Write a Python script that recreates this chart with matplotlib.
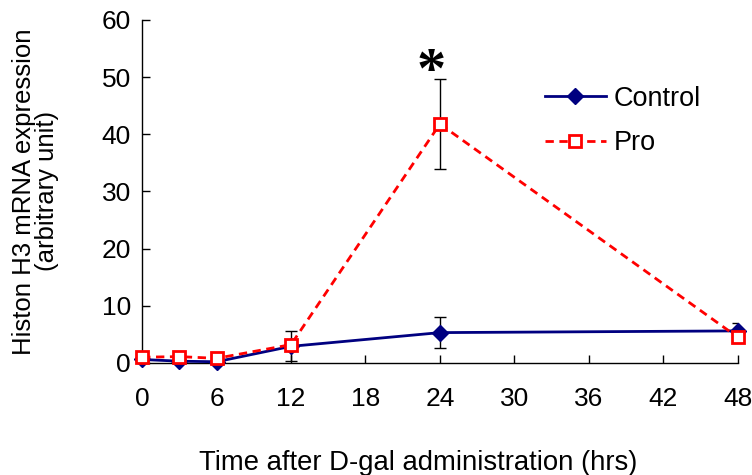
import matplotlib
matplotlib.use("Agg")
import matplotlib.pyplot as plt

plt.rcParams['font.family'] = ['Liberation Sans', 'DejaVu Sans']

# data
hours = [0, 3, 6, 12, 24, 48]
control = [0.6, 0.3, 0.2, 2.9, 5.3, 5.6]
control_err = [0, 0, 0, 2.6, 2.7, 1.3]
pro = [1.0, 1.1, 0.8, 3.2, 41.8, 4.5]
pro_err = [0, 0, 0, 0, 7.8, 0]
xticks = [0, 6, 12, 18, 24, 30, 36, 42, 48]
yticks = [0, 10, 20, 30, 40, 50, 60]

fig = plt.figure(figsize=(7.52, 4.75), dpi=100)
ax = fig.add_axes([0.189, 0.236, 0.792, 0.722])

ax.errorbar(hours, control, yerr=control_err, fmt='none', ecolor='black',
            elinewidth=1, capsize=4, capthick=1, zorder=2)
ax.errorbar(hours, pro, yerr=pro_err, fmt='none', ecolor='black',
            elinewidth=1, capsize=4, capthick=1, zorder=2)

ax.plot(hours, control, color='#000080', linewidth=2, marker='D',
        markersize=8.5, markerfacecolor='#000080', markeredgecolor='#000080',
        label='Control', clip_on=False, zorder=3)
ax.plot(hours, pro, color='#FF0000', linewidth=2, linestyle=(0, (3, 2)),
        marker='s', markersize=9, markerfacecolor='white',
        markeredgecolor='#FF0000', markeredgewidth=2,
        label='Pro', clip_on=False, zorder=4)

# significance mark
ax.text(23.3, 50.7, '*', ha='center', va='center', fontsize=42,
        fontweight='bold', family='Liberation Serif')

ax.set_xlim(0, 48)
ax.set_ylim(0, 60)
ax.set_xticks(xticks)
ax.set_yticks(yticks)
ax.tick_params(direction='in', length=6, width=1, labelsize=19)
ax.tick_params(axis='x', pad=17)
ax.tick_params(axis='y', pad=8)
for side in ['top', 'right']:
    ax.spines[side].set_visible(False)
for side in ['left', 'bottom']:
    ax.spines[side].set_linewidth(1)

ax.set_xlabel('Time after D-gal administration (hrs)', fontsize=19.8)
ax.xaxis.set_label_coords(0.463, -0.255)
ax.set_ylabel('Histon H3 mRNA expression\n(arbitrary unit)', fontsize=18.5,
              labelpad=31, linespacing=0.95)

ax.legend(loc='center left', bbox_to_anchor=(0.635, 0.705), frameon=False,
          fontsize=19.5, handlelength=2.25, handletextpad=0.3, labelspacing=0.68)

fig.savefig('out.png', dpi=100)
